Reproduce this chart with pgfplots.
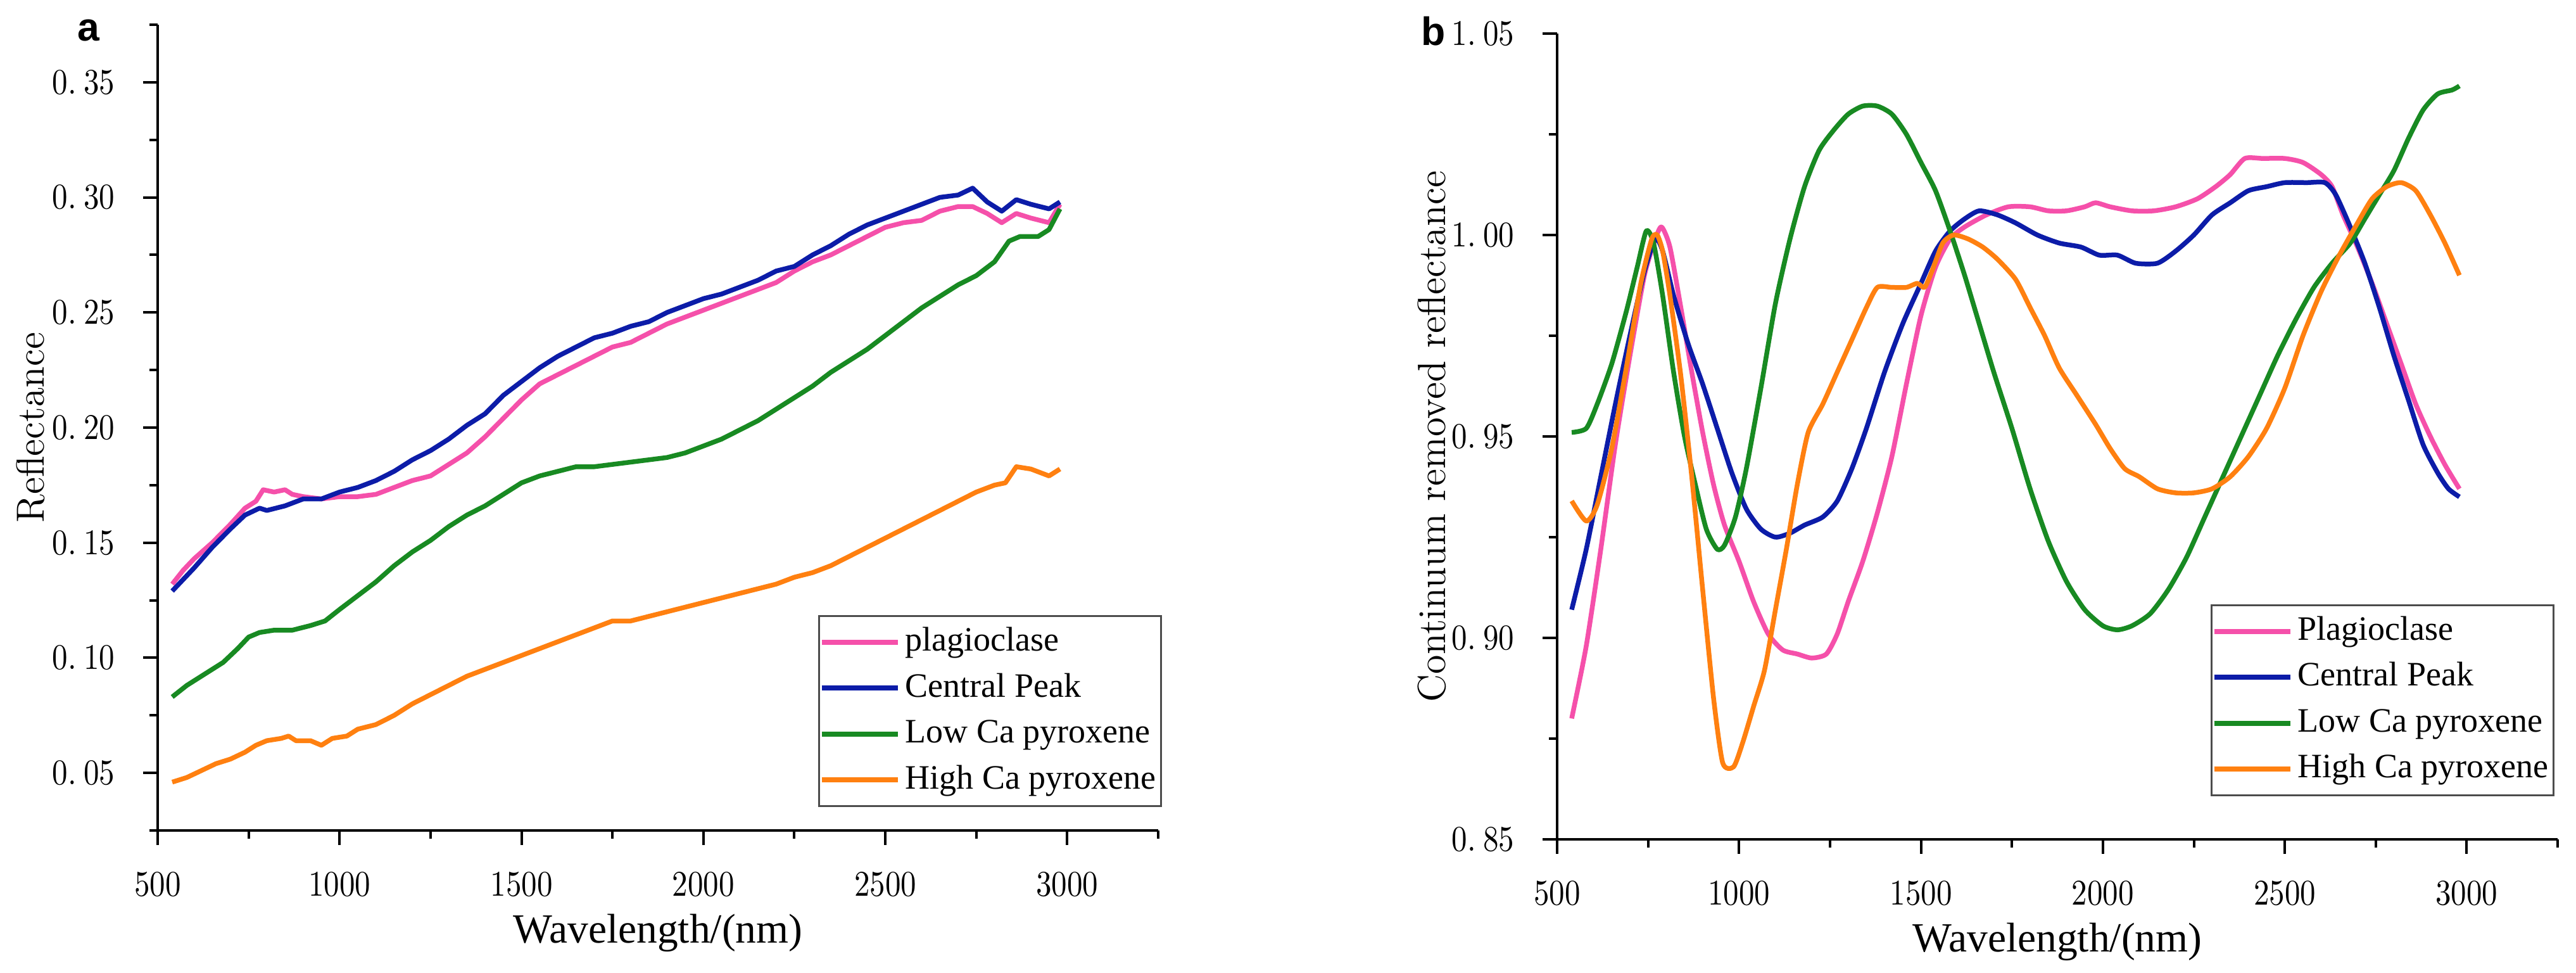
\documentclass[border=0pt]{standalone}
\usepackage{fontspec}
\setmainfont{Liberation Serif}
\setsansfont{Liberation Sans}
\newfontfamily\lmfont{lmroman12-regular.otf}
\newfontfamily\tickfont{lmroman10-regular.otf}[FakeStretch=0.86]
\usepackage{pgfplots}
\usepackage{pgfplotstable}
\pgfplotsset{compat=1.18}

\definecolor{plag}{RGB}{245,80,170}
\definecolor{cpeak}{RGB}{12,28,168}
\definecolor{lowca}{RGB}{24,138,34}
\definecolor{highca}{RGB}{255,128,16}

% ---------- (a) reflectance spectra ----------
\pgfplotstableread{
x y
540 0.132
570 0.138
600 0.143
650 0.150
700 0.158
740 0.165
770 0.168
790 0.173
820 0.172
850 0.173
870 0.171
900 0.170
950 0.169
1000 0.170
1050 0.170
1100 0.171
1150 0.174
1200 0.177
1250 0.179
1300 0.184
1350 0.189
1400 0.196
1450 0.204
1500 0.212
1550 0.219
1600 0.223
1650 0.227
1700 0.231
1750 0.235
1800 0.237
1850 0.241
1900 0.245
1950 0.248
2000 0.251
2050 0.254
2100 0.257
2150 0.260
2200 0.263
2250 0.268
2300 0.272
2350 0.275
2400 0.279
2450 0.283
2500 0.287
2550 0.289
2600 0.290
2650 0.294
2700 0.296
2740 0.296
2780 0.293
2820 0.289
2860 0.293
2900 0.291
2950 0.289
2980 0.297
}\aPlag

\pgfplotstableread{
x y
540 0.129
570 0.134
600 0.139
650 0.148
700 0.156
740 0.162
780 0.165
800 0.164
850 0.166
900 0.169
950 0.169
1000 0.172
1050 0.174
1100 0.177
1150 0.181
1200 0.186
1250 0.190
1300 0.195
1350 0.201
1400 0.206
1450 0.214
1500 0.220
1550 0.226
1600 0.231
1650 0.235
1700 0.239
1750 0.241
1800 0.244
1850 0.246
1900 0.250
1950 0.253
2000 0.256
2050 0.258
2100 0.261
2150 0.264
2200 0.268
2250 0.270
2300 0.275
2350 0.279
2400 0.284
2450 0.288
2500 0.291
2550 0.294
2600 0.297
2650 0.300
2700 0.301
2740 0.304
2780 0.298
2820 0.294
2860 0.299
2900 0.297
2950 0.295
2980 0.298
}\aPeak

\pgfplotstableread{
x y
540 0.083
580 0.088
620 0.092
680 0.098
720 0.104
750 0.109
780 0.111
820 0.112
870 0.112
920 0.114
960 0.116
1000 0.121
1050 0.127
1100 0.133
1150 0.140
1200 0.146
1250 0.151
1300 0.157
1350 0.162
1400 0.166
1450 0.171
1500 0.176
1550 0.179
1600 0.181
1650 0.183
1700 0.183
1750 0.184
1800 0.185
1850 0.186
1900 0.187
1950 0.189
2000 0.192
2050 0.195
2100 0.199
2150 0.203
2200 0.208
2250 0.213
2300 0.218
2350 0.224
2400 0.229
2450 0.234
2500 0.240
2550 0.246
2600 0.252
2650 0.257
2700 0.262
2750 0.266
2800 0.272
2840 0.281
2870 0.283
2920 0.283
2950 0.286
2980 0.295
}\aLow

\pgfplotstableread{
x y
540 0.046
580 0.048
620 0.051
660 0.054
700 0.056
740 0.059
770 0.062
800 0.064
840 0.065
860 0.066
880 0.064
920 0.064
950 0.062
980 0.065
1020 0.066
1050 0.069
1100 0.071
1150 0.075
1200 0.080
1250 0.084
1300 0.088
1350 0.092
1400 0.095
1450 0.098
1500 0.101
1550 0.104
1600 0.107
1650 0.110
1700 0.113
1750 0.116
1800 0.116
1850 0.118
1900 0.120
1950 0.122
2000 0.124
2050 0.126
2100 0.128
2150 0.130
2200 0.132
2250 0.135
2300 0.137
2350 0.140
2400 0.144
2450 0.148
2500 0.152
2550 0.156
2600 0.160
2650 0.164
2700 0.168
2750 0.172
2800 0.175
2830 0.176
2860 0.183
2900 0.182
2950 0.179
2980 0.182
}\aHigh

% ---------- (b) continuum removed spectra ----------
\pgfplotstableread{
x y
540 0.880
580 0.898
620 0.922
660 0.948
700 0.970
740 0.990
770 0.999
787 1.002
810 0.997
840 0.982
870 0.966
900 0.951
930 0.938
960 0.928
1000 0.919
1040 0.909
1080 0.901
1120 0.897
1160 0.896
1200 0.895
1240 0.896
1270 0.901
1300 0.909
1340 0.919
1380 0.931
1420 0.945
1460 0.963
1500 0.980
1540 0.992
1580 0.999
1620 1.002
1680 1.005
1740 1.007
1800 1.007
1850 1.006
1900 1.006
1950 1.007
1980 1.008
2020 1.007
2080 1.006
2140 1.006
2200 1.007
2260 1.009
2310 1.012
2350 1.015
2390 1.019
2440 1.019
2500 1.019
2550 1.018
2600 1.015
2630 1.012
2660 1.005
2700 0.997
2740 0.988
2780 0.978
2820 0.968
2860 0.958
2900 0.950
2940 0.943
2980 0.937
}\bPlag

\pgfplotstableread{
x y
540 0.907
580 0.922
620 0.940
660 0.958
700 0.975
740 0.991
770 0.999
790 0.996
820 0.985
860 0.973
900 0.963
940 0.952
980 0.941
1020 0.932
1060 0.927
1100 0.925
1140 0.926
1180 0.928
1230 0.930
1270 0.934
1310 0.942
1350 0.952
1400 0.966
1450 0.978
1500 0.988
1540 0.996
1580 1.001
1620 1.004
1660 1.006
1710 1.005
1760 1.003
1820 1.000
1880 0.998
1940 0.997
1990 0.995
2040 0.995
2090 0.993
2150 0.993
2200 0.996
2250 1.000
2300 1.005
2350 1.008
2400 1.011
2450 1.012
2500 1.013
2560 1.013
2610 1.013
2640 1.010
2680 1.002
2720 0.993
2760 0.982
2800 0.970
2840 0.959
2880 0.948
2920 0.941
2950 0.937
2980 0.935
}\bPeak

\pgfplotstableread{
x y
540 0.951
580 0.952
610 0.958
650 0.968
690 0.981
720 0.992
745 1.001
765 0.998
790 0.985
820 0.966
850 0.950
880 0.938
910 0.927
940 0.922
960 0.923
990 0.930
1020 0.942
1060 0.962
1100 0.983
1140 0.999
1180 1.012
1220 1.021
1260 1.026
1300 1.030
1340 1.032
1380 1.032
1420 1.030
1460 1.025
1500 1.018
1540 1.011
1580 1.001
1620 0.990
1660 0.978
1700 0.966
1750 0.952
1800 0.937
1850 0.924
1900 0.914
1950 0.907
2000 0.903
2040 0.902
2080 0.903
2130 0.906
2180 0.912
2230 0.920
2280 0.930
2330 0.940
2380 0.950
2430 0.960
2480 0.970
2530 0.979
2580 0.987
2630 0.993
2680 0.998
2720 1.004
2760 1.010
2800 1.016
2840 1.024
2880 1.031
2920 1.035
2960 1.036
2980 1.037
}\bLow

\pgfplotstableread{
x y
540 0.934
580 0.929
610 0.933
650 0.947
690 0.967
730 0.988
760 0.999
775 1.000
790 0.996
810 0.985
840 0.965
870 0.940
900 0.912
930 0.885
955 0.869
985 0.868
1010 0.874
1040 0.883
1070 0.892
1100 0.907
1130 0.922
1160 0.938
1190 0.951
1230 0.958
1270 0.966
1310 0.974
1350 0.982
1380 0.987
1420 0.987
1460 0.987
1490 0.988
1510 0.987
1530 0.991
1560 0.998
1590 1.000
1630 0.999
1670 0.997
1710 0.994
1760 0.989
1800 0.982
1840 0.975
1880 0.967
1930 0.960
1980 0.953
2020 0.947
2060 0.942
2100 0.940
2150 0.937
2200 0.936
2250 0.936
2300 0.937
2350 0.940
2400 0.945
2450 0.952
2500 0.962
2550 0.975
2600 0.986
2650 0.995
2700 1.003
2740 1.009
2780 1.012
2820 1.013
2860 1.011
2900 1.005
2940 0.998
2980 0.990
}\bHigh

\pgfplotsset{
  spec/.style={
    scale only axis, width=316pt, height=254.4pt,
    axis x line*=bottom, axis y line*=left,
    xmin=500, xmax=3250,
    xtick={500,1000,1500,2000,2500,3000},
    xticklabels={500,1000,1500,2000,2500,3000},
    minor xtick={750,1250,1750,2250,2750,3250},
    tick align=outside,
    major tick length=4.6pt, minor tick length=2.6pt,
    tick style={black, line width=0.8pt},
    axis line style={black, line width=0.8pt},
    scaled ticks=false,
    ticklabel style={font=\tickfont\fontsize{11.4}{13}\selectfont},
    xticklabel style={yshift=-5pt},
    yticklabel style={xshift=-5.4pt},
    xlabel={Wavelength/(nm)},
    xlabel style={font=\fontsize{13.1}{15}\selectfont,
      at={([yshift=-32.4pt]axis description cs:0.5,0)}, anchor=center},
    ylabel style={font=\lmfont\fontsize{12.4}{14}\selectfont, anchor=center},
    legend cell align=left,
    legend image code/.code={\draw[#1, line width=1.6pt] (0pt,0pt) -- (24pt,0pt);},
    legend style={draw=black!70, line width=0.6pt, fill=white,
      inner xsep=0pt, inner ysep=1pt,
      font=\fontsize{10.8}{12}\selectfont,
      nodes={inner xsep=1.6pt, inner ysep=2pt, text height=8pt, text depth=2.5pt}},
    every axis plot/.append style={line width=1.5pt, line join=round},
  },
}

\begin{document}
\begin{tikzpicture}
\useasboundingbox (0pt,0pt) rectangle (813.6pt,307.2pt);

\begin{axis}[spec,
  at={(49.8pt,45pt)}, anchor=south west,
  ymin=0.025, ymax=0.375,
  ytick={0.05,0.10,0.15,0.20,0.25,0.30,0.35},
  yticklabels={0.\hspace{2.3pt}05,0.\hspace{2.3pt}10,0.\hspace{2.3pt}15,0.\hspace{2.3pt}20,0.\hspace{2.3pt}25,0.\hspace{2.3pt}30,0.\hspace{2.3pt}35},
  minor ytick={0.025,0.075,0.125,0.175,0.225,0.275,0.325,0.375},
  ylabel={Reflectance},
  ylabel style={at={([xshift=-40.1pt]axis description cs:0,0.5)}},
  legend style={at={(rel axis cs:1.0038,0.029)}, anchor=south east},
]
\addplot[plag]   table[x=x,y=y] {\aPlag};
\addplot[cpeak]  table[x=x,y=y] {\aPeak};
\addplot[lowca]  table[x=x,y=y] {\aLow};
\addplot[highca] table[x=x,y=y] {\aHigh};
\legend{plagioclase, Central Peak, Low Ca pyroxene, High Ca pyroxene}
\end{axis}

\begin{axis}[spec,
  at={(491.8pt,42.2pt)}, anchor=south west,
  ymin=0.85, ymax=1.05,
  ytick={0.85,0.90,0.95,1.00,1.05},
  yticklabels={0.\hspace{2.3pt}85,0.\hspace{2.3pt}90,0.\hspace{2.3pt}95,1.\hspace{2.3pt}00,1.\hspace{2.3pt}05},
  minor ytick={0.875,0.925,0.975,1.025},
  ylabel={Continuum removed reflectance},
  ylabel style={at={([xshift=-39.6pt]axis description cs:0,0.5)}},
  legend style={at={(rel axis cs:0.9968,0.0535)}, anchor=south east},
]
\addplot[plag, smooth, tension=0.4]   table[x=x,y=y] {\bPlag};
\addplot[cpeak, smooth, tension=0.4]  table[x=x,y=y] {\bPeak};
\addplot[lowca, smooth, tension=0.4]  table[x=x,y=y] {\bLow};
\addplot[highca, smooth, tension=0.4] table[x=x,y=y] {\bHigh};
\legend{Plagioclase, Central Peak, Low Ca pyroxene, High Ca pyroxene}
\end{axis}

\node[font=\sffamily\bfseries\fontsize{12.5}{14}\selectfont] at (28pt,297.6pt) {a};
\node[font=\sffamily\bfseries\fontsize{12.5}{14}\selectfont] at (452.8pt,297.4pt) {b};
\end{tikzpicture}
\end{document}
